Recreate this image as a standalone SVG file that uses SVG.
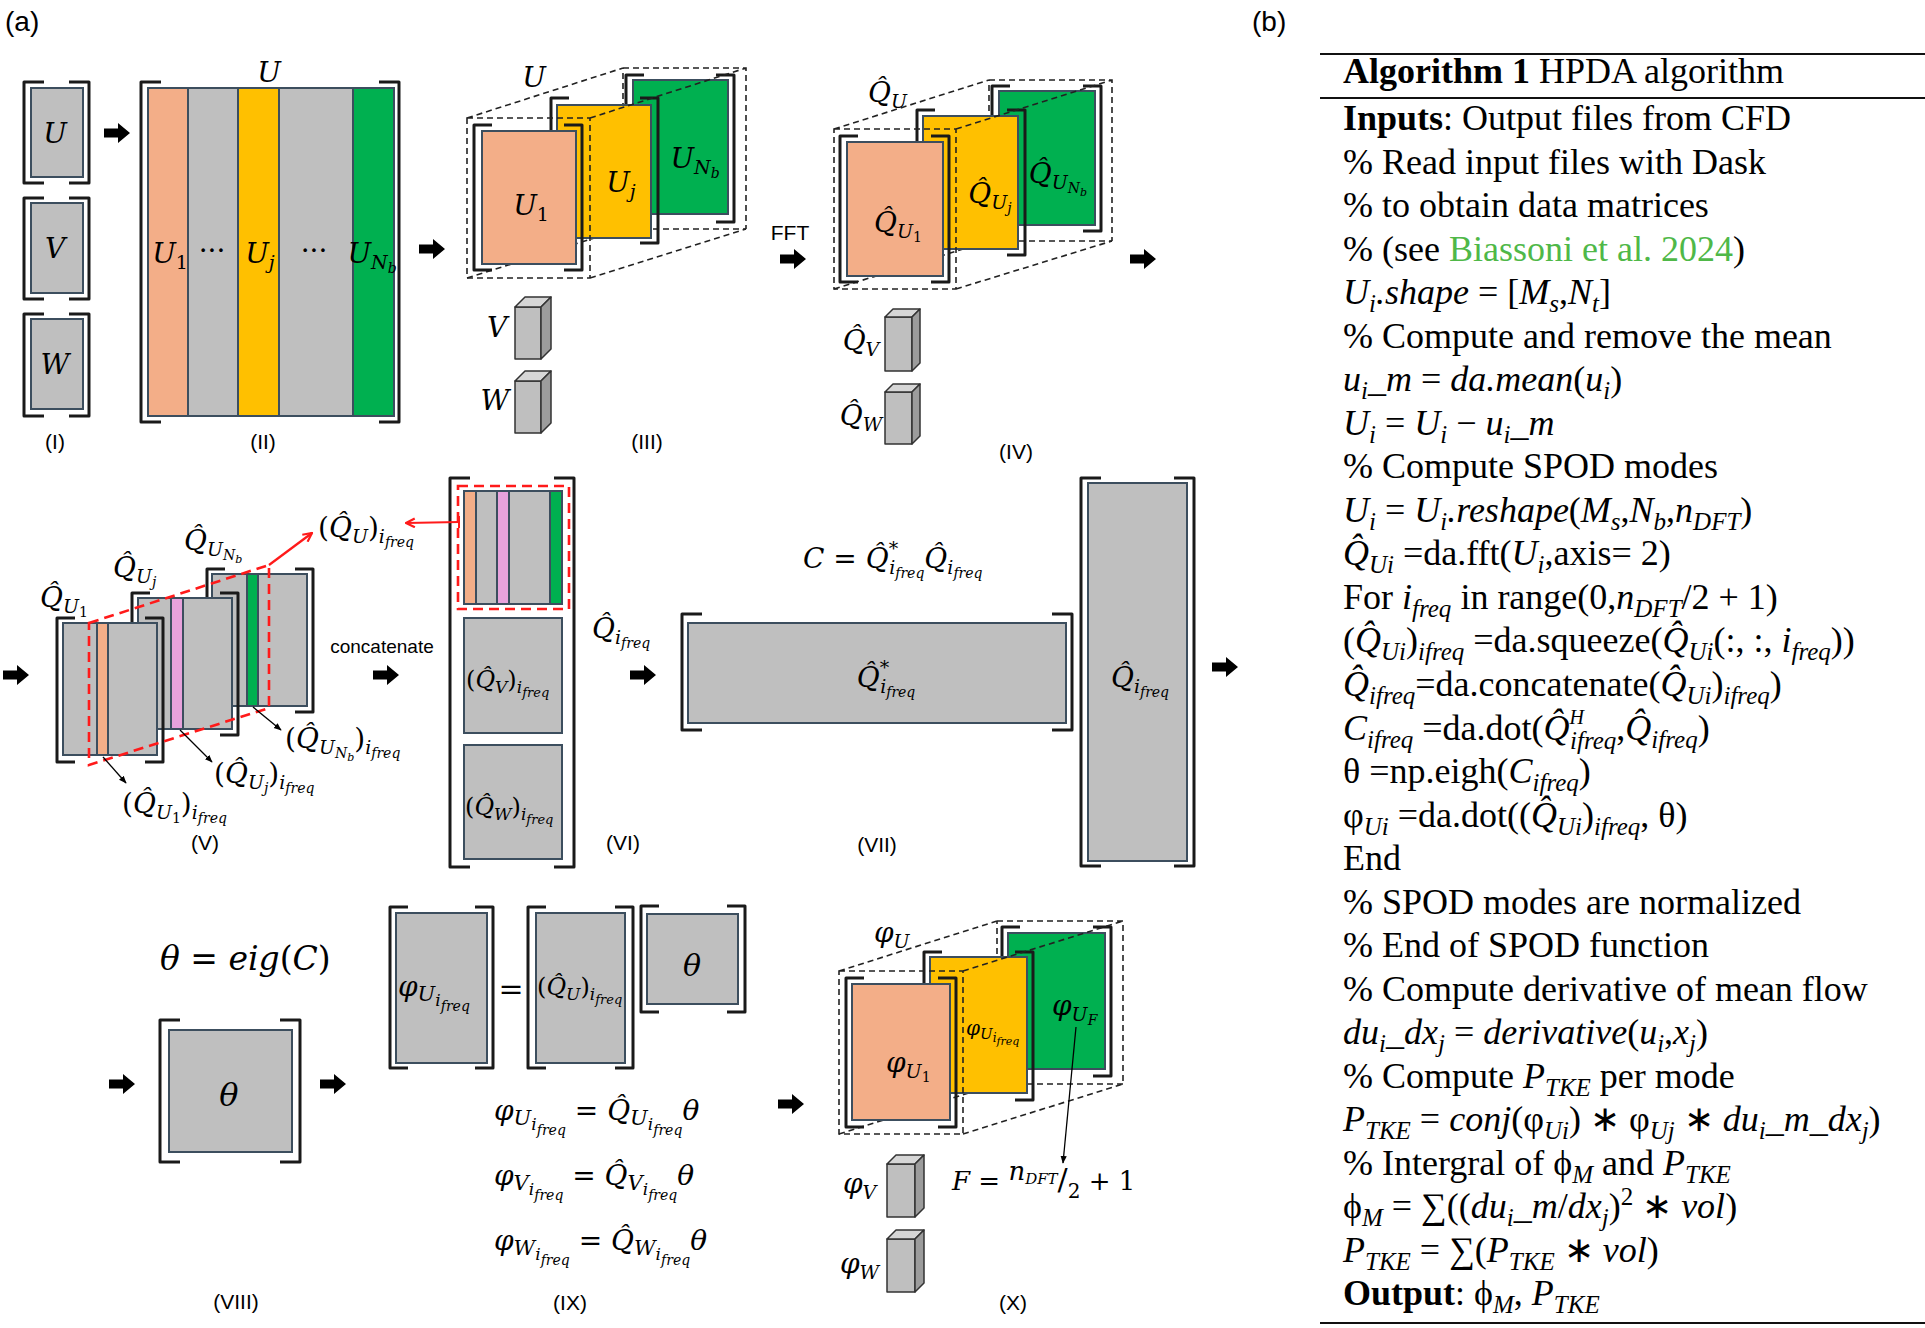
<svg xmlns="http://www.w3.org/2000/svg" width="1925" height="1328" viewBox="0 0 1925 1328">
<style>
.m{font-family:"DejaVu Serif","Liberation Serif",serif;font-style:italic;fill:#000}
.up{font-style:normal}
.lab{font-family:"Liberation Sans",Arial,sans-serif;font-size:21px;fill:#000}
.a{font-family:"Liberation Serif","Times New Roman",serif;font-size:36px;fill:#000}
.i{font-style:italic}
.s{font-size:25px}
.g{fill:#bfbfbf;stroke:#3c4e5e;stroke-width:2}
.or{fill:#f3ae88;stroke:#3c4e5e;stroke-width:2}
.ye{fill:#ffc000;stroke:#3c4e5e;stroke-width:2}
.gr{fill:#00b050;stroke:#3c4e5e;stroke-width:2}
.pk{fill:#e8a2dc;stroke:#3c4e5e;stroke-width:2}
.br{fill:none;stroke:#1a1a1a;stroke-width:3;stroke-linejoin:round}
.cub{fill:none;stroke:#222;stroke-width:1.6;stroke-dasharray:6 4}
.red{fill:none;stroke:#ff1a1a;stroke-width:2.6;stroke-dasharray:10 6}
.cf{fill:#bfbfbf;stroke:#333;stroke-width:1.5;stroke-linejoin:round}
.ct{fill:#d6d6d6;stroke:#333;stroke-width:1.5;stroke-linejoin:round}
.cs{fill:#9c9c9c;stroke:#333;stroke-width:1.5;stroke-linejoin:round}
.rule{stroke:#111;stroke-width:2}
</style>
<defs>
<path id="ba" d="M0,-4.5 H14 V-10 L26,0 L14,10 V4.5 H0 Z" fill="#000"/>
<marker id="rh" viewBox="0 0 10 10" refX="9" refY="5" markerWidth="5" markerHeight="5" orient="auto"><path d="M1,1 L9,5 L1,9" fill="none" stroke="#ff1a1a" stroke-width="2"/></marker>
<marker id="bh" viewBox="0 0 10 10" refX="9" refY="5" markerWidth="6" markerHeight="6" orient="auto"><path d="M0,1 L10,5 L0,9 z" fill="#000"/></marker>
</defs>

<text class="lab" x="5" y="31" style="font-size:28px">(a)</text>
<text class="lab" x="1252" y="31" style="font-size:28px">(b)</text>

<!-- Panel I -->
<g id="p1-U">
<path class="br" d="M44,82 H24 V183 H44 M69,82 H89 V183 H69"/>
<rect class="g" x="31" y="88" width="52" height="89"/>
<text class="m" x="55" y="143" font-size="28" text-anchor="middle">U</text>
</g>
<g id="p1-V">
<path class="br" d="M44,198 H24 V299 H44 M69,198 H89 V299 H69"/>
<rect class="g" x="31" y="203" width="52" height="90"/>
<text class="m" x="55" y="258" font-size="28" text-anchor="middle">V</text>
</g>
<g id="p1-W">
<path class="br" d="M44,314 H24 V416 H44 M69,314 H89 V416 H69"/>
<rect class="g" x="31" y="319" width="52" height="90"/>
<text class="m" x="55" y="374" font-size="28" text-anchor="middle">W</text>
</g>
<text class="lab" x="55" y="449" text-anchor="middle">(I)</text>

<!-- Panel II -->
<g id="p2-U">
<path class="br" d="M161,82 H141 V422 H161 M379,82 H399 V422 H379"/>
<rect class="or" x="148" y="88" width="40" height="328"/>
<rect class="g" x="188" y="88" width="50" height="328"/>
<rect class="ye" x="238" y="88" width="41" height="328"/>
<rect class="g" x="279" y="88" width="74" height="328"/>
<rect class="gr" x="353" y="88" width="41" height="328"/>
<text class="m" x="269" y="82" font-size="28" text-anchor="middle">U</text>
<text class="m" x="170" y="263" font-size="28" text-anchor="middle">U<tspan class="up" font-size="19" dy="6">1</tspan></text>
<text class="m up" x="212" y="260" font-size="28" text-anchor="middle">···</text>
<text class="m" x="260" y="263" font-size="28" text-anchor="middle">U<tspan font-size="19" dy="6">j</tspan></text>
<text class="m up" x="314" y="260" font-size="28" text-anchor="middle">···</text>
<text class="m" x="372" y="263" font-size="28" text-anchor="middle">U<tspan font-size="19" dy="6">N</tspan><tspan font-size="14" dy="4">b</tspan></text>
</g>
<text class="lab" x="263" y="449" text-anchor="middle">(II)</text>

<!-- Panel III -->
<g id="p3-U">
<path class="cub" d="M623,229 V68 M623,229 H746 M467,278 L623,229"/>
<path class="br" d="M644,75 H626 V222 H644 M716,75 H734 V222 H716"/>
<rect class="gr" x="633" y="80" width="95" height="134"/>
<path class="br" d="M569,98 H551 V243 H569 M640,98 H658 V243 H640"/>
<rect class="ye" x="557" y="105" width="94" height="133"/>
<path class="br" d="M492,125 H474 V270 H492 M564,125 H582 V270 H564"/>
<rect class="or" x="482" y="131" width="94" height="133"/>
<path class="cub" d="M467,118 H590 V278 H467 Z M623,68 H746 V229 M467,118 L623,68 M590,118 L746,68 M590,278 L746,229"/>
<text class="m" x="534" y="87" font-size="28" text-anchor="middle">U</text>
<text class="m" x="531" y="215" font-size="28" text-anchor="middle">U<tspan class="up" font-size="19" dy="6">1</tspan></text>
<text class="m" x="621" y="192" font-size="28" text-anchor="middle">U<tspan font-size="19" dy="6">j</tspan></text>
<text class="m" x="695" y="168" font-size="28" text-anchor="middle">U<tspan font-size="19" dy="6">N</tspan><tspan font-size="14" dy="4">b</tspan></text>
</g>
<g id="p3-V">
<rect class="cf" x="515" y="307" width="26" height="52"/>
<path class="ct" d="M515,307 L525,297 H551 L541,307 Z"/>
<path class="cs" d="M541,307 L551,297 V349 L541,359 Z"/>
<text class="m" x="497" y="337" font-size="28" text-anchor="middle">V</text>
</g>
<g id="p3-W">
<rect class="cf" x="515" y="381" width="26" height="52"/>
<path class="ct" d="M515,381 L525,371 H551 L541,381 Z"/>
<path class="cs" d="M541,381 L551,371 V423 L541,433 Z"/>
<text class="m" x="495" y="410" font-size="28" text-anchor="middle">W</text>
</g>
<text class="lab" x="647" y="449" text-anchor="middle">(III)</text>
<text class="lab" x="790" y="240" text-anchor="middle">FFT</text>

<!-- Panel IV -->
<g id="p4-Q">
<path class="cub" d="M989,241 V80 M989,241 H1112 M834,289 L989,241"/>
<path class="br" d="M1010,86 H992 V231 H1010 M1083,86 H1101 V231 H1083"/>
<rect class="gr" x="999" y="91" width="96" height="134"/>
<path class="br" d="M935,110 H917 V255 H935 M1007,110 H1025 V255 H1007"/>
<rect class="ye" x="923" y="116" width="95" height="133"/>
<path class="br" d="M858,136 H840 V282 H858 M931,136 H949 V282 H931"/>
<rect class="or" x="847" y="142" width="96" height="134"/>
<path class="cub" d="M834,129 H956 V289 H834 Z M989,80 H1112 V241 M834,129 L989,80 M956,129 L1112,80 M956,289 L1112,241"/>
<text class="m" x="868" y="102" font-size="28">Q&#x302;<tspan font-size="19" dy="6">U</tspan></text>
<text class="m" x="898" y="232" font-size="28" text-anchor="middle">Q&#x302;<tspan font-size="19" dy="6">U</tspan><tspan class="up" font-size="14" dy="4">1</tspan></text>
<text class="m" x="990" y="203" font-size="28" text-anchor="middle">Q&#x302;<tspan font-size="19" dy="6">U</tspan><tspan font-size="14" dy="4">j</tspan></text>
<text class="m" x="1058" y="183" font-size="28" text-anchor="middle">Q&#x302;<tspan font-size="19" dy="6">U</tspan><tspan font-size="14" dy="4">N</tspan><tspan font-size="11" dy="3">b</tspan></text>
</g>
<g id="p4-V">
<rect class="cf" x="885" y="317" width="27" height="54"/>
<path class="ct" d="M885,317 L893,309 H920 L912,317 Z"/>
<path class="cs" d="M912,317 L920,309 V363 L912,371 Z"/>
<text class="m" x="861" y="350" font-size="28" text-anchor="middle">Q&#x302;<tspan font-size="19" dy="6">V</tspan></text>
</g>
<g id="p4-W">
<rect class="cf" x="885" y="392" width="27" height="52"/>
<path class="ct" d="M885,392 L893,384 H920 L912,392 Z"/>
<path class="cs" d="M912,392 L920,384 V436 L912,444 Z"/>
<text class="m" x="861" y="425" font-size="28" text-anchor="middle">Q&#x302;<tspan font-size="19" dy="6">W</tspan></text>
</g>
<text class="lab" x="1016" y="459" text-anchor="middle">(IV)</text>

<!-- Panel V -->
<g id="p5-QUNb">
<path class="br" d="M225,569 H207 V712 H225 M295,569 H313 V712 H295"/>
<rect class="g" x="212" y="574" width="95" height="132"/>
<rect class="gr" x="247" y="574" width="11" height="132"/>
<text class="m" x="184" y="550" font-size="28">Q&#x302;<tspan font-size="19" dy="6">U</tspan><tspan font-size="14" dy="4">N</tspan><tspan font-size="11" dy="3">b</tspan></text>
</g>
<g id="p5-QUj">
<path class="br" d="M150,593 H132 V735 H150 M220,593 H238 V735 H220"/>
<rect class="g" x="138" y="598" width="94" height="131"/>
<rect class="pk" x="171" y="598" width="12" height="131"/>
<text class="m" x="113" y="577" font-size="28">Q&#x302;<tspan font-size="19" dy="6">U</tspan><tspan font-size="14" dy="4">j</tspan></text>
</g>
<g id="p5-QU1">
<path class="br" d="M75,618 H57 V762 H75 M145,618 H163 V762 H145"/>
<rect class="g" x="63" y="623" width="94" height="132"/>
<rect class="or" x="97" y="623" width="11" height="132"/>
<text class="m" x="40" y="607" font-size="28">Q&#x302;<tspan font-size="19" dy="6">U</tspan><tspan class="up" font-size="14" dy="4">1</tspan></text>
</g>
<path class="red" d="M89,623 L269,565 V708 L89,765 Z"/>
<text class="m" x="318" y="537" font-size="28"><tspan class="up">(</tspan>Q&#x302;<tspan font-size="19" dy="6">U</tspan><tspan class="up" dy="-6">)</tspan><tspan font-size="19" dy="6">i</tspan><tspan font-size="14" dy="4">freq</tspan></text>
<text class="m" x="122" y="813" font-size="28"><tspan class="up">(</tspan>Q&#x302;<tspan font-size="19" dy="6">U</tspan><tspan class="up" font-size="14" dy="4">1</tspan><tspan class="up" dy="-10">)</tspan><tspan font-size="19" dy="6">i</tspan><tspan font-size="14" dy="4">freq</tspan></text>
<text class="m" x="214" y="783" font-size="28"><tspan class="up">(</tspan>Q&#x302;<tspan font-size="19" dy="6">U</tspan><tspan font-size="14" dy="4">j</tspan><tspan class="up" dy="-10">)</tspan><tspan font-size="19" dy="6">i</tspan><tspan font-size="14" dy="4">freq</tspan></text>
<text class="m" x="285" y="748" font-size="28"><tspan class="up">(</tspan>Q&#x302;<tspan font-size="19" dy="6">U</tspan><tspan font-size="14" dy="4">N</tspan><tspan font-size="11" dy="3">b</tspan><tspan class="up" dy="-13">)</tspan><tspan font-size="19" dy="6">i</tspan><tspan font-size="14" dy="4">freq</tspan></text>
<text class="lab" x="205" y="850" text-anchor="middle">(V)</text>
<text class="lab" x="382" y="653" text-anchor="middle" style="font-size:19px">concatenate</text>

<!-- Panel VI -->
<g id="p6-Q">
<path class="br" d="M470,478 H450 V867 H470 M554,478 H574 V867 H554"/>
<rect class="g" x="464" y="491" width="98" height="113"/>
<rect class="or" x="464" y="491" width="12" height="113"/>
<rect class="pk" x="497" y="491" width="12" height="113"/>
<rect class="gr" x="550" y="491" width="12" height="113"/>
<rect class="red" x="458" y="486" width="111" height="123"/>
<rect class="g" x="464" y="618" width="98" height="115"/>
<rect class="g" x="464" y="745" width="98" height="114"/>
<text class="m" x="466" y="688" font-size="24"><tspan class="up">(</tspan>Q&#x302;<tspan font-size="17" dy="5">V</tspan><tspan class="up" dy="-5">)</tspan><tspan font-size="17" dy="5">i</tspan><tspan font-size="13" dy="4">freq</tspan></text>
<text class="m" x="465" y="815" font-size="24"><tspan class="up">(</tspan>Q&#x302;<tspan font-size="17" dy="5">W</tspan><tspan class="up" dy="-5">)</tspan><tspan font-size="17" dy="5">i</tspan><tspan font-size="13" dy="4">freq</tspan></text>
</g>
<text class="lab" x="623" y="850" text-anchor="middle">(VI)</text>
<text class="m" x="592" y="638" font-size="28">Q&#x302;<tspan font-size="19" dy="6">i</tspan><tspan font-size="14" dy="4">freq</tspan></text>

<!-- Panel VII -->
<g id="p7-Qstar">
<path class="br" d="M702,614 H682 V730 H702 M1052,614 H1072 V730 H1052"/>
<rect class="g" x="688" y="623" width="378" height="100"/>
<text class="m" x="886" y="687" font-size="28" text-anchor="middle">Q&#x302;<tspan class="up" font-size="19" dy="-13">*</tspan><tspan font-size="19" dx="-9" dy="19">i</tspan><tspan font-size="14" dy="4">freq</tspan></text>
</g>
<g id="p7-Q">
<path class="br" d="M1101,478 H1081 V866 H1101 M1174,478 H1194 V866 H1174"/>
<rect class="g" x="1088" y="483" width="99" height="378"/>
<text class="m" x="1140" y="687" font-size="28" text-anchor="middle">Q&#x302;<tspan font-size="19" dy="6">i</tspan><tspan font-size="14" dy="4">freq</tspan></text>
</g>
<text class="m" x="803" y="568" font-size="28">C <tspan class="up">=</tspan> Q&#x302;<tspan class="up" font-size="19" dy="-13">*</tspan><tspan font-size="19" dx="-9" dy="19">i</tspan><tspan font-size="14" dy="4">freq</tspan><tspan dy="-10">Q&#x302;</tspan><tspan font-size="19" dy="6">i</tspan><tspan font-size="14" dy="4">freq</tspan></text>
<text class="lab" x="877" y="852" text-anchor="middle">(VII)</text>

<!-- Panel VIII -->
<text class="m" x="160" y="970" font-size="33">θ <tspan class="up">=</tspan> eig<tspan class="up">(</tspan>C<tspan class="up">)</tspan></text>
<g id="p8-theta">
<path class="br" d="M180,1020 H160 V1162 H180 M280,1020 H300 V1162 H280"/>
<rect class="g" x="169" y="1030" width="123" height="122"/>
<text class="m" x="229" y="1106" font-size="32" text-anchor="middle">θ</text>
</g>
<text class="lab" x="236" y="1309" text-anchor="middle">(VIII)</text>

<!-- Panel IX -->
<g id="p9-phi">
<path class="br" d="M408,907 H390 V1068 H408 M475,907 H493 V1068 H475"/>
<rect class="g" x="396" y="913" width="91" height="150"/>
<text class="m" x="398" y="996" font-size="28">φ<tspan font-size="21" dy="5">U</tspan><tspan font-size="17" dy="5">i</tspan><tspan font-size="14" dy="5">freq</tspan></text>
</g>
<text class="m up" x="511" y="999" font-size="30" text-anchor="middle">=</text>
<g id="p9-QU">
<path class="br" d="M546,907 H528 V1068 H546 M615,907 H633 V1068 H615"/>
<rect class="g" x="536" y="913" width="89" height="150"/>
<text class="m" x="537" y="995" font-size="24"><tspan class="up">(</tspan>Q&#x302;<tspan font-size="17" dy="5">U</tspan><tspan class="up" dy="-5">)</tspan><tspan font-size="17" dy="5">i</tspan><tspan font-size="13" dy="4">freq</tspan></text>
</g>
<g id="p9-theta">
<path class="br" d="M659,906 H641 V1012 H659 M727,906 H745 V1012 H727"/>
<rect class="g" x="647" y="914" width="91" height="90"/>
<text class="m" x="692" y="976" font-size="30" text-anchor="middle">θ</text>
</g>
<text class="m" x="494" y="1120" font-size="28">φ<tspan font-size="21" dy="5">U</tspan><tspan font-size="17" dy="5">i</tspan><tspan font-size="14" dy="5">freq</tspan><tspan class="up" dy="-15"> = </tspan>Q&#x302;<tspan font-size="21" dy="5">U</tspan><tspan font-size="17" dy="5">i</tspan><tspan font-size="14" dy="5">freq</tspan><tspan dy="-15">θ</tspan></text>
<text class="m" x="494" y="1185" font-size="28">φ<tspan font-size="21" dy="5">V</tspan><tspan font-size="17" dy="5">i</tspan><tspan font-size="14" dy="5">freq</tspan><tspan class="up" dy="-15"> = </tspan>Q&#x302;<tspan font-size="21" dy="5">V</tspan><tspan font-size="17" dy="5">i</tspan><tspan font-size="14" dy="5">freq</tspan><tspan dy="-15">θ</tspan></text>
<text class="m" x="494" y="1250" font-size="28">φ<tspan font-size="21" dy="5">W</tspan><tspan font-size="17" dy="5">i</tspan><tspan font-size="14" dy="5">freq</tspan><tspan class="up" dy="-15"> = </tspan>Q&#x302;<tspan font-size="21" dy="5">W</tspan><tspan font-size="17" dy="5">i</tspan><tspan font-size="14" dy="5">freq</tspan><tspan dy="-15">θ</tspan></text>
<text class="lab" x="570" y="1310" text-anchor="middle">(IX)</text>

<!-- Panel X -->
<g id="p10-phi">
<path class="cub" d="M997,1084 V921 M997,1084 H1123 M839,1134 L997,1084"/>
<path class="br" d="M1020,927 H1002 V1076 H1020 M1093,927 H1111 V1076 H1093"/>
<rect class="gr" x="1008" y="933" width="97" height="136"/>
<path class="br" d="M942,952 H924 V1100 H942 M1015,952 H1033 V1100 H1015"/>
<rect class="ye" x="930" y="957" width="97" height="136"/>
<path class="br" d="M864,978 H846 V1127 H864 M938,978 H956 V1127 H938"/>
<rect class="or" x="852" y="984" width="98" height="136"/>
<path class="cub" d="M839,971 H963 V1134 H839 Z M997,921 H1123 V1084 M839,971 L997,921 M963,971 L1123,921 M963,1134 L1123,1084"/>
<text class="m" x="874" y="942" font-size="28">φ<tspan font-size="19" dy="6">U</tspan></text>
<text class="m" x="886" y="1072" font-size="28">φ<tspan font-size="19" dy="6">U</tspan><tspan class="up" font-size="14" dy="4">1</tspan></text>
<text class="m" x="966" y="1035" font-size="20">φ<tspan font-size="15" dy="4">U</tspan><tspan font-size="12" dy="3">i</tspan><tspan font-size="11" dy="3">freq</tspan></text>
<text class="m" x="1052" y="1015" font-size="28">φ<tspan font-size="19" dy="6">U</tspan><tspan font-size="14" dy="4">F</tspan></text>
</g>
<g id="p10-V">
<rect class="cf" x="887" y="1164" width="28" height="53"/>
<path class="ct" d="M887,1164 L896,1155 H924 L915,1164 Z"/>
<path class="cs" d="M915,1164 L924,1155 V1208 L915,1217 Z"/>
<text class="m" x="843" y="1193" font-size="28">φ<tspan font-size="19" dy="6">V</tspan></text>
</g>
<g id="p10-W">
<rect class="cf" x="887" y="1239" width="28" height="53"/>
<path class="ct" d="M887,1239 L896,1230 H924 L915,1239 Z"/>
<path class="cs" d="M915,1239 L924,1230 V1283 L915,1292 Z"/>
<text class="m" x="840" y="1273" font-size="28">φ<tspan font-size="19" dy="6">W</tspan></text>
</g>
<text class="m" x="952" y="1190" font-size="26">F <tspan class="up">=</tspan> <tspan dy="-10">n</tspan><tspan font-size="15" dy="4">DFT</tspan><tspan class="up" font-size="30" dy="6">/</tspan><tspan class="up" font-size="20" dy="8">2</tspan><tspan class="up" dy="-8"> + 1</tspan></text>
<text class="lab" x="1013" y="1310" text-anchor="middle">(X)</text>

<!-- connectors -->
<g id="connectors">
<use href="#ba" x="104" y="133"/>
<use href="#ba" x="419" y="249"/>
<use href="#ba" x="780" y="259"/>
<use href="#ba" x="1130" y="259"/>
<use href="#ba" x="3" y="675"/>
<use href="#ba" x="373" y="675"/>
<use href="#ba" x="630" y="675"/>
<use href="#ba" x="1212" y="667"/>
<use href="#ba" x="109" y="1084"/>
<use href="#ba" x="320" y="1084"/>
<use href="#ba" x="778" y="1104"/>
<path d="M269,565 L312,533" fill="none" stroke="#ff1a1a" stroke-width="2.2" marker-end="url(#rh)"/>
<path d="M459,522 L406,523" fill="none" stroke="#ff1a1a" stroke-width="2.2" marker-end="url(#rh)"/>
<path d="M459,516 V528" stroke="#ff1a1a" stroke-width="2"/>
<path d="M103,757 L126,783" fill="none" stroke="#000" stroke-width="1.3" marker-end="url(#bh)"/>
<path d="M180,730 L212,762" fill="none" stroke="#000" stroke-width="1.3" marker-end="url(#bh)"/>
<path d="M253,707 L281,730" fill="none" stroke="#000" stroke-width="1.3" marker-end="url(#bh)"/>
<path d="M1076,1027 L1063,1163" fill="none" stroke="#000" stroke-width="1.3" marker-end="url(#bh)"/>
</g>

<!-- Panel (b) Algorithm -->
<g id="algorithm">
<line class="rule" x1="1320" y1="54" x2="1925" y2="54"/>
<line class="rule" x1="1320" y1="98" x2="1925" y2="98"/>
<line class="rule" x1="1320" y1="1323" x2="1925" y2="1323"/>
<text class="a" x="1343" y="83"><tspan font-weight="bold">Algorithm 1</tspan> HPDA algorithm</text>
<text class="a" x="1343" y="130"><tspan font-weight="bold">Inputs</tspan>: Output files from CFD</text>
<text class="a" x="1343" y="174">% Read input files with Dask</text>
<text class="a" x="1343" y="217">% to obtain data matrices</text>
<text class="a" x="1343" y="261">% (see <tspan fill="#4fb848">Biassoni et al. 2024</tspan>)</text>
<text class="a" x="1343" y="304"><tspan class="i">U</tspan><tspan class="i s" dy="8">i</tspan><tspan class="i" dy="-8">.shape</tspan> = [<tspan class="i">M</tspan><tspan class="i s" dy="8">s</tspan><tspan dy="-8">,</tspan><tspan class="i">N</tspan><tspan class="i s" dy="8">t</tspan><tspan dy="-8">]</tspan></text>
<text class="a" x="1343" y="348">% Compute and remove the mean</text>
<text class="a" x="1343" y="391"><tspan class="i">u</tspan><tspan class="i s" dy="8">i</tspan><tspan class="i" dy="-8">_m</tspan> = <tspan class="i">da.mean</tspan>(<tspan class="i">u</tspan><tspan class="i s" dy="8">i</tspan><tspan dy="-8">)</tspan></text>
<text class="a" x="1343" y="435"><tspan class="i">U</tspan><tspan class="i s" dy="8">i</tspan><tspan dy="-8"> = </tspan><tspan class="i">U</tspan><tspan class="i s" dy="8">i</tspan><tspan dy="-8"> − </tspan><tspan class="i">u</tspan><tspan class="i s" dy="8">i</tspan><tspan class="i" dy="-8">_m</tspan></text>
<text class="a" x="1343" y="478">% Compute SPOD modes</text>
<text class="a" x="1343" y="522"><tspan class="i">U</tspan><tspan class="i s" dy="8">i</tspan><tspan dy="-8"> = </tspan><tspan class="i">U</tspan><tspan class="i s" dy="8">i</tspan><tspan class="i" dy="-8">.reshape</tspan>(<tspan class="i">M</tspan><tspan class="i s" dy="8">s</tspan><tspan dy="-8">,</tspan><tspan class="i">N</tspan><tspan class="i s" dy="8">b</tspan><tspan dy="-8">,</tspan><tspan class="i">n</tspan><tspan class="i s" dy="8">DFT</tspan><tspan dy="-8">)</tspan></text>
<text class="a" x="1343" y="565"><tspan class="i">Q&#x302;</tspan><tspan class="i s" dy="8">Ui</tspan><tspan dy="-8"> =da.fft(</tspan><tspan class="i">U</tspan><tspan class="i s" dy="8">i</tspan><tspan dy="-8">,axis= 2)</tspan></text>
<text class="a" x="1343" y="609">For <tspan class="i">i</tspan><tspan class="i s" dy="8">freq</tspan><tspan dy="-8"> in range(0,</tspan><tspan class="i">n</tspan><tspan class="i s" dy="8">DFT</tspan><tspan dy="-8">/2 + 1)</tspan></text>
<text class="a" x="1343" y="652">(<tspan class="i">Q&#x302;</tspan><tspan class="i s" dy="8">Ui</tspan><tspan dy="-8">)</tspan><tspan class="i s" dy="8">ifreq</tspan><tspan dy="-8"> =da.squeeze(</tspan><tspan class="i">Q&#x302;</tspan><tspan class="i s" dy="8">Ui</tspan><tspan dy="-8">(:, :, </tspan><tspan class="i">i</tspan><tspan class="i s" dy="8">freq</tspan><tspan dy="-8">))</tspan></text>
<text class="a" x="1343" y="696"><tspan class="i">Q&#x302;</tspan><tspan class="i s" dy="8">ifreq</tspan><tspan dy="-8">=da.concatenate(</tspan><tspan class="i">Q&#x302;</tspan><tspan class="i s" dy="8">Ui</tspan><tspan dy="-8">)</tspan><tspan class="i s" dy="8">ifreq</tspan><tspan dy="-8">)</tspan></text>
<text class="a" x="1343" y="740"><tspan class="i">C</tspan><tspan class="i s" dy="8">ifreq</tspan><tspan dy="-8"> =da.dot(</tspan><tspan class="i">Q&#x302;</tspan><tspan class="i" font-size="20" dy="-16">H</tspan><tspan class="i s" dx="-14" dy="25">ifreq</tspan><tspan dy="-9">,</tspan><tspan class="i">Q&#x302;</tspan><tspan class="i s" dy="8">ifreq</tspan><tspan dy="-8">)</tspan></text>
<text class="a" x="1343" y="783">θ =np.eigh(<tspan class="i">C</tspan><tspan class="i s" dy="8">ifreq</tspan><tspan dy="-8">)</tspan></text>
<text class="a" x="1343" y="827">φ<tspan class="i s" dy="8">Ui</tspan><tspan dy="-8"> =da.dot((</tspan><tspan class="i">Q&#x302;</tspan><tspan class="i s" dy="8">Ui</tspan><tspan dy="-8">)</tspan><tspan class="i s" dy="8">ifreq</tspan><tspan dy="-8">, θ)</tspan></text>
<text class="a" x="1343" y="870">End</text>
<text class="a" x="1343" y="914">% SPOD modes are normalized</text>
<text class="a" x="1343" y="957">% End of SPOD function</text>
<text class="a" x="1343" y="1001">% Compute derivative of mean flow</text>
<text class="a" x="1343" y="1044"><tspan class="i">du</tspan><tspan class="i s" dy="8">i</tspan><tspan class="i" dy="-8">_dx</tspan><tspan class="i s" dy="8">j</tspan><tspan dy="-8"> = </tspan><tspan class="i">derivative</tspan>(<tspan class="i">u</tspan><tspan class="i s" dy="8">i</tspan><tspan dy="-8">,</tspan><tspan class="i">x</tspan><tspan class="i s" dy="8">j</tspan><tspan dy="-8">)</tspan></text>
<text class="a" x="1343" y="1088">% Compute <tspan class="i">P</tspan><tspan class="i s" dy="8">TKE</tspan><tspan dy="-8"> per mode</tspan></text>
<text class="a" x="1343" y="1131"><tspan class="i">P</tspan><tspan class="i s" dy="8">TKE</tspan><tspan dy="-8"> = </tspan><tspan class="i">conj</tspan>(φ<tspan class="i s" dy="8">Ui</tspan><tspan dy="-8">) ∗ φ</tspan><tspan class="i s" dy="8">Uj</tspan><tspan dy="-8"> ∗ </tspan><tspan class="i">du</tspan><tspan class="i s" dy="8">i</tspan><tspan class="i" dy="-8">_m_dx</tspan><tspan class="i s" dy="8">j</tspan><tspan dy="-8">)</tspan></text>
<text class="a" x="1343" y="1175">% Intergral of ϕ<tspan class="i s" dy="8">M</tspan><tspan dy="-8"> and </tspan><tspan class="i">P</tspan><tspan class="i s" dy="8">TKE</tspan></text>
<text class="a" x="1343" y="1218">ϕ<tspan class="i s" dy="8">M</tspan><tspan dy="-8"> = ∑((</tspan><tspan class="i">du</tspan><tspan class="i s" dy="8">i</tspan><tspan class="i" dy="-8">_m</tspan>/<tspan class="i">dx</tspan><tspan class="i s" dy="8">j</tspan><tspan dy="-8">)</tspan><tspan class="s" dy="-13">2</tspan><tspan dy="13"> ∗ </tspan><tspan class="i">vol</tspan>)</text>
<text class="a" x="1343" y="1262"><tspan class="i">P</tspan><tspan class="i s" dy="8">TKE</tspan><tspan dy="-8"> = ∑(</tspan><tspan class="i">P</tspan><tspan class="i s" dy="8">TKE</tspan><tspan dy="-8"> ∗ </tspan><tspan class="i">vol</tspan>)</text>
<text class="a" x="1343" y="1305"><tspan font-weight="bold">Output</tspan>: ϕ<tspan class="i s" dy="8">M</tspan><tspan dy="-8">, </tspan><tspan class="i">P</tspan><tspan class="i s" dy="8">TKE</tspan></text>
</g>
</svg>
